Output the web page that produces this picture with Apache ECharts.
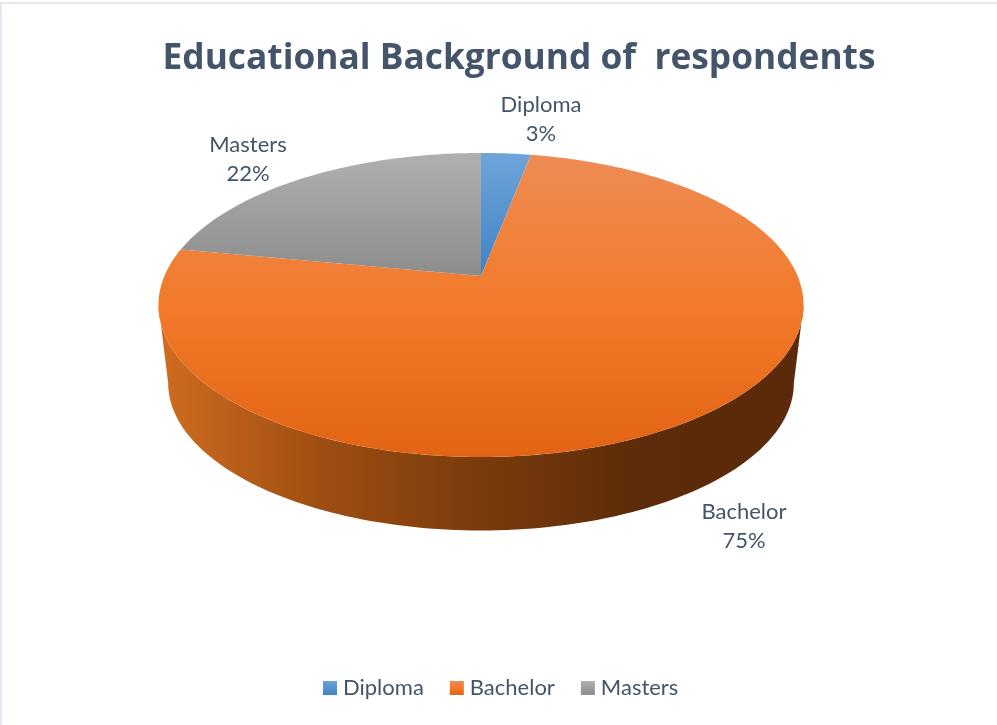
<!DOCTYPE html>
<html>
<head>
<meta charset="utf-8">
<style>html,body{margin:0;padding:0;background:#fff}#chart{width:997px;height:725px}</style>
<script src="https://cdn.jsdelivr.net/npm/echarts@6/dist/echarts.min.js"></script>
</head>
<body>
<div id="chart"></div>
<script>
// Survey shares, percent
const categories = ['Diploma', 'Bachelor', 'Masters'];
const shares = [3, 75, 22];
const chartTitle = 'Educational Background of  respondents';

// Vertical shading of each slice's top face
const faceStops = [
  ['#6fa4da', '#3f83c6'],
  ['#ee8c55', '#f27a2a', '#e26314'],
  ['#b0b0b0', '#8c8c8c']
];
const labelAnchors = [[541, 119], [744, 526], [248, 159]];
const ink = '#44546a';
const font = 'Lato, "Open Sans", sans-serif';

// Tilted disc: a unit circle seen in perspective, so the centre sits above the ellipse middle
const tilt = { x: 481, a: 0.1908, k: 316.6, A: -93.8, B: 276 };
function project(phi, radius, dy, shrink) {
  const u = Math.sin(phi) * radius, v = Math.cos(phi) * radius;
  const w = 1 + tilt.a * v;
  const s = shrink || 1;
  return [
    tilt.x + s * tilt.k * u / w,
    (tilt.B + 29) + s * ((tilt.A * v + tilt.B) / w - (tilt.B + 29)) + (dy || 0)
  ];
}
const total = shares.reduce((a, b) => a + b, 0);
const cumulative = shares.map((_, i) => shares.slice(0, i).reduce((a, b) => a + b, 0));

function verticalGradient(stops) {
  return {
    type: 'linear', x: 0, y: 0, x2: 0, y2: 1,
    colorStops: stops.map((c, i) => ({ offset: i / (stops.length - 1), color: c }))
  };
}

function rimSide() {
  // Side wall between the visible rim of the top face and the rim of the base
  const from = Math.PI - Math.asin(Math.sqrt(1 - tilt.a * tilt.a));
  const to = 2 * Math.PI - from;
  const steps = 120, upper = [], lower = [];
  for (let i = 0; i <= steps; i++) {
    const p = from + (to - from) * i / steps;
    upper.push(project(p, 1));
    lower.push(project(p, 1, 78, 0.97));
  }
  return {
    type: 'polygon',
    shape: { points: upper.concat(lower.reverse()) },
    style: {
      fill: {
        type: 'linear', x: 0, y: 0, x2: 1, y2: 0,
        colorStops: [
          { offset: 0, color: '#d06d20' },
          { offset: 0.25, color: '#9f4e12' },
          { offset: 0.5, color: '#7a3b0d' },
          { offset: 0.75, color: '#5c2b09' },
          { offset: 1, color: '#5a2a0a' }
        ]
      }
    }
  };
}

function sliceRenderer(index) {
  return function (params, api) {
    const value = api.value(0);
    const start = cumulative[index] / total * 2 * Math.PI;
    const end = start + value / total * 2 * Math.PI;
    const pts = [project(0, 0)];
    const steps = Math.max(8, Math.round(value * 3));
    for (let i = 0; i <= steps; i++) {
      pts.push(project(start + (end - start) * i / steps, 1));
    }
    const children = [];
    if (categories[index] === 'Bachelor') children.push(rimSide());
    children.push({
      type: 'polygon',
      shape: { points: pts },
      style: { fill: verticalGradient(faceStops[index]) }
    });
    children.push({
      type: 'text', z2: 10,
      style: {
        text: categories[index] + '\n' + value + '%',
        x: labelAnchors[index][0], y: labelAnchors[index][1],
        align: 'center', verticalAlign: 'middle',
        font: '22px ' + font, lineHeight: 29, fill: ink
      }
    });
    return { type: 'group', children };
  };
}

const chart = echarts.init(document.getElementById('chart'));
chart.setOption({
  animation: false,
  backgroundColor: '#ffffff',
  title: {
    text: chartTitle, left: 514, top: 36, textAlign: 'center',
    textStyle: { color: ink, fontFamily: '"Open Sans", Lato, sans-serif', fontWeight: 'bold', fontSize: 35.3 }
  },
  legend: {
    data: categories, left: 318, top: 672, itemWidth: 14, itemHeight: 14, itemGap: 26,
    icon: 'rect',
    textStyle: { color: ink, fontFamily: font, fontSize: 22, padding: [0, 0, 0, 1] }
  },
  graphic: [
    { type: 'rect', shape: { x: 0, y: 2, width: 997, height: 2 }, style: { fill: '#e4e8f0' } },
    { type: 'rect', shape: { x: 0, y: 2, width: 2, height: 723 }, style: { fill: '#e4e8f0' } }
  ],
  series: categories.map((name, i) => ({
    type: 'custom', name, coordinateSystem: 'none',
    itemStyle: { color: verticalGradient(faceStops[i]) },
    renderItem: sliceRenderer(i),
    data: [[shares[i]]]
  }))
});
</script>
</body>
</html>
